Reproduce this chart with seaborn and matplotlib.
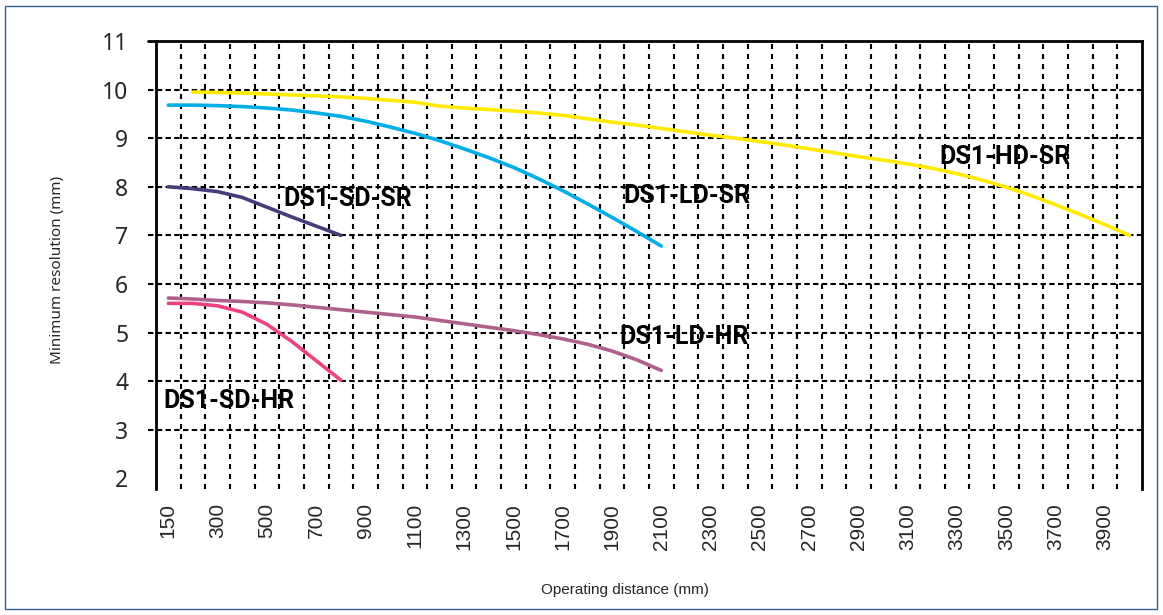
import matplotlib
matplotlib.use("Agg")
import matplotlib.pyplot as plt
import seaborn as sns
import pandas as pd
import numpy as np
from matplotlib.patches import Rectangle

# ---------------- data ----------------
categories = [150] + list(range(200, 4001, 100))   # operating distance categories (mm)

hd_sr_x = [200, 300, 400, 500, 600, 700, 800, 900, 1000, 1100, 1200, 1300, 1400, 1500,
           1600, 1700, 1800, 1900, 2000, 2100, 2200, 2300, 2400, 2500, 2600, 2700, 2800,
           2900, 3000, 3100, 3200, 3300, 3400, 3500, 3600, 3700, 3800, 3900, 4000]
hd_sr_y = [9.95, 9.94, 9.93, 9.91, 9.89, 9.87, 9.85, 9.82, 9.78, 9.74, 9.66, 9.62, 9.59,
           9.56, 9.52, 9.47, 9.40, 9.33, 9.27, 9.20, 9.13, 9.06, 9.00, 8.93, 8.86, 8.78,
           8.70, 8.62, 8.55, 8.47, 8.38, 8.27, 8.14, 7.99, 7.82, 7.63, 7.43, 7.22, 7.00]

ld_sr_x = [150, 200, 300, 400, 500, 600, 700, 800, 900, 1000, 1100, 1200, 1300, 1400,
           1500, 1600, 1700, 1800, 1900, 2000, 2100]
ld_sr_y = [9.68, 9.68, 9.67, 9.65, 9.62, 9.58, 9.52, 9.45, 9.35, 9.23, 9.10, 8.95, 8.78,
           8.60, 8.40, 8.17, 7.92, 7.65, 7.37, 7.08, 6.78]

sd_sr_x = [150, 200, 300, 400, 500, 600, 700, 800]
sd_sr_y = [8.00, 7.96, 7.90, 7.78, 7.58, 7.38, 7.19, 7.00]

ld_hr_x = [150, 200, 300, 400, 500, 600, 700, 800, 900, 1000, 1100, 1200, 1300, 1400,
           1500, 1600, 1700, 1800, 1900, 2000, 2100]
ld_hr_y = [5.71, 5.69, 5.66, 5.64, 5.61, 5.57, 5.52, 5.47, 5.42, 5.37, 5.32, 5.25, 5.18,
           5.11, 5.04, 4.96, 4.87, 4.76, 4.62, 4.44, 4.22]

sd_hr_x = [150, 200, 300, 400, 500, 600, 700, 800]
sd_hr_y = [5.60, 5.60, 5.55, 5.42, 5.17, 4.82, 4.42, 4.02]

series_names = ["DS1-HD-SR", "DS1-LD-SR", "DS1-SD-SR", "DS1-LD-HR", "DS1-SD-HR"]
series_colors = ["#FFEA00", "#00AEE6", "#4A3C78", "#B0608C", "#EC4282"]

y_ticks = list(range(2, 12))
x_labels = categories[::2]   # 150, 300, 500, ... 3900

# ---------------- build table ----------------
rows = []
for name, xs, ys in zip(series_names,
                        [hd_sr_x, ld_sr_x, sd_sr_x, ld_hr_x, sd_hr_x],
                        [hd_sr_y, ld_sr_y, sd_sr_y, ld_hr_y, sd_hr_y]):
    for xv, yv in zip(xs, ys):
        rows.append({"series": name, "idx": categories.index(xv), "dist": xv, "res": yv})
df = pd.DataFrame(rows)

# ---------------- plot ----------------
sns.set_style("white")
plt.rcParams["font.family"] = ["Liberation Sans", "DejaVu Sans"]

fig = plt.figure(figsize=(11.63, 6.15), dpi=100)
ax = fig.add_axes([156 / 1163, 1 - 489 / 615, (1142 - 156) / 1163, (489 - 41) / 615])

sns.lineplot(data=df, x="idx", y="res", hue="series", hue_order=series_names,
             palette=series_colors, sort=False, linewidth=2.6, legend=False, ax=ax,
             zorder=3)

n = len(categories)
ax.set_xlim(-0.5, n - 0.5)
ax.set_ylim(1.78, 11)

# vertical dashed gridlines at category boundaries
for k in range(1, n):
    ax.axvline(k - 0.5, color="black", lw=1.5, dashes=(2.4, 2.4), zorder=1)
# horizontal dashed gridlines, extending a little left of the axis like tick marks
for yv in y_ticks:
    if 3 <= yv <= 10:
        ax.plot([-0.008, 1], [yv, yv], transform=ax.get_yaxis_transform(),
                color="black", lw=1.5, dashes=(2.6, 1.6), clip_on=False, zorder=1)
ax.plot([-0.008, 0], [11, 11], transform=ax.get_yaxis_transform(),
        color="black", lw=2, clip_on=False, zorder=1)

ax.set_yticks(y_ticks)
ax.set_yticklabels([str(v) for v in y_ticks], fontsize=16.5, family=["Noto Sans", "DejaVu Sans"])
ax.set_xticks([categories.index(v) for v in x_labels])
ax.set_xticklabels([str(v) for v in x_labels], rotation=90, fontsize=15)
ax.tick_params(axis="both", length=0)
ax.tick_params(axis="y", pad=20)
ax.tick_params(axis="x", pad=10)

for side in ["left", "top", "right"]:
    ax.spines[side].set_visible(True)
    ax.spines[side].set_color("black")
    ax.spines[side].set_linewidth(2)
ax.spines["bottom"].set_visible(False)

ax.set_xlabel("")
ax.set_ylabel("")
fig.text(625 / 1163, 1 - 590 / 615, "Operating distance (mm)", ha="center", va="center",
         fontsize=11)
fig.text(58 / 1163, 1 - 270 / 615, "Minimum resolution (mm)", ha="center", va="center",
         rotation=90, fontsize=11, family=["Noto Sans", "DejaVu Sans"])

# series labels
label_pos = {
    "DS1-SD-SR": (4.65, 7.74),
    "DS1-LD-SR": (18.45, 7.80),
    "DS1-HD-SR": (31.3, 8.62),
    "DS1-LD-HR": (18.3, 4.90),
    "DS1-SD-HR": (-0.22, 3.59),
}
for name in series_names:
    xx, yy = label_pos[name]
    ax.text(xx, yy, name, ha="left", va="center", fontsize=18, fontweight="bold",
            family=["Roboto", "DejaVu Sans"], color="black", zorder=4)

# outer frame
fig.patches.append(Rectangle((5 / 1163, 6 / 615), 1152 / 1163, 603 / 615,
                             transform=fig.transFigure, fill=False,
                             edgecolor="#2F5F94", lw=1.0))

fig.savefig("out.png", dpi=100)
